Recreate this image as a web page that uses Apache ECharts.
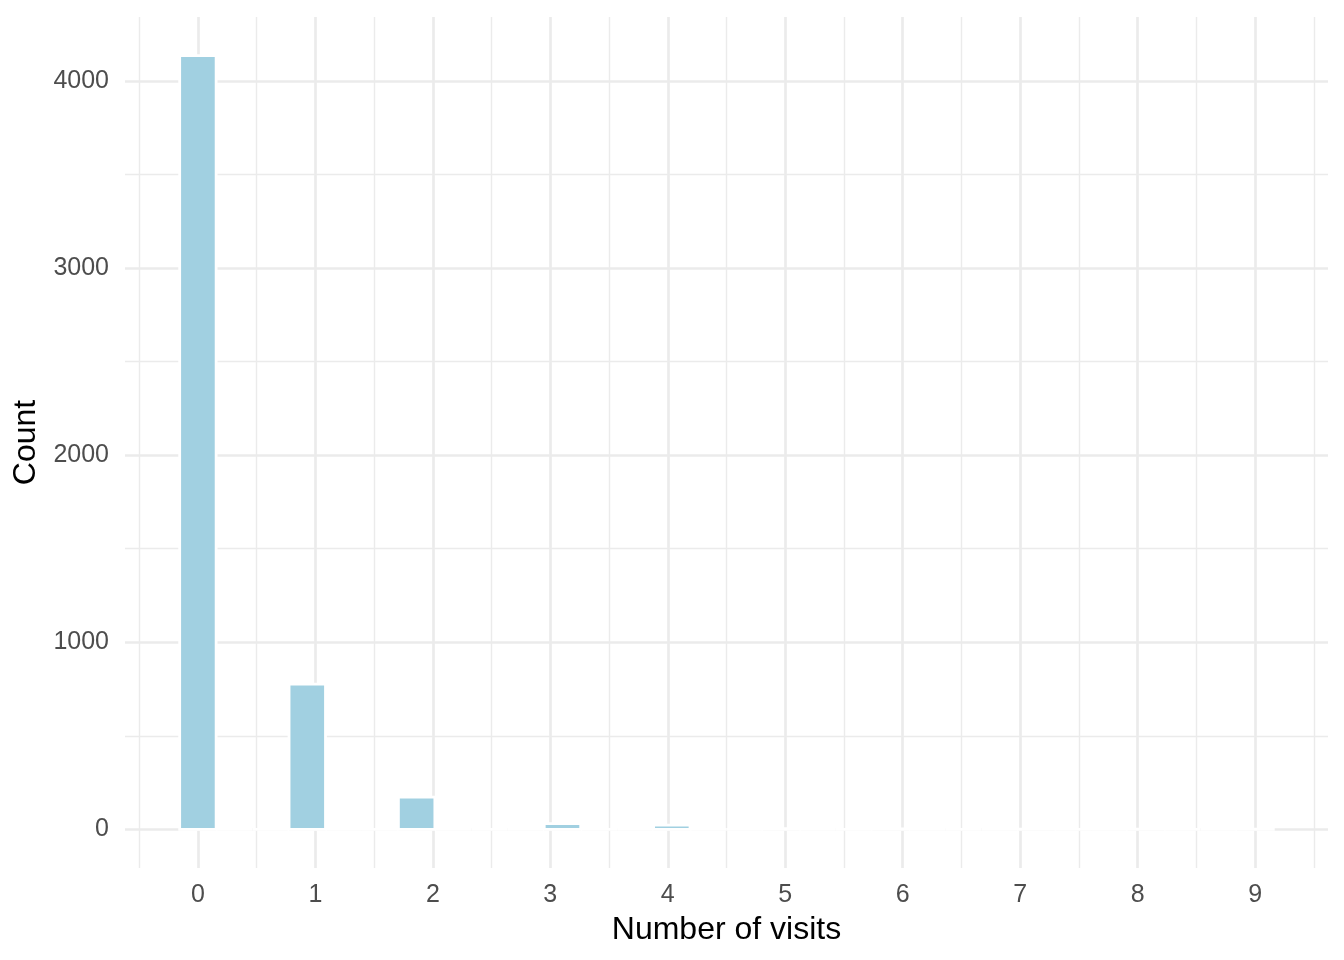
<!DOCTYPE html>
<html>
<head>
<meta charset="utf-8">
<script src="https://cdn.jsdelivr.net/npm/echarts@6/dist/echarts.min.js"></script>
<style>html,body{margin:0;padding:0;background:#fff}#c{width:1344px;height:960px}</style>
</head>
<body>
<div id="c"></div>
<script>
// Histogram: 30 bins, bin width 9/29, centred on k * binWidth
const binWidth = 9 / 29;
const binCounts = [4135, 0, 0, 776, 0, 0, 172, 0, 0, 0, 30, 0, 0, 22, 0, 0, 4, 0, 0, 2, 0, 0, 0, 1, 0, 0, 1, 0, 0, 1];
const xTicks = [0, 1, 2, 3, 4, 5, 6, 7, 8, 9];
const xMinor = [-0.5, 0.5, 1.5, 2.5, 3.5, 4.5, 5.5, 6.5, 7.5, 8.5, 9.5];
const yTicks = [0, 1000, 2000, 3000, 4000];
const yMinor = [500, 1500, 2500, 3500];
const xTitle = 'Number of visits';
const yTitle = 'Count';

const bins = binCounts.map((c, k) => [k * binWidth - binWidth / 2, k * binWidth + binWidth / 2, c]);
const xLo = bins[0][0], xHi = bins[bins.length - 1][1];
const xPad = (xHi - xLo) * 0.05;
const yMax = Math.max(...binCounts);
const yPad = yMax * 0.05;

const grid = '#EBEBEB';
function vLines(vals, w) { return vals.map(v => ({ xAxis: v, lineStyle: { width: w, color: grid, type: 'solid' } })); }
function hLines(vals, w) { return vals.map(v => ({ yAxis: v, lineStyle: { width: w, color: grid, type: 'solid' } })); }

const chart = echarts.init(document.getElementById('c'), null, { renderer: 'canvas' });
chart.setOption({
  animation: false,
  backgroundColor: '#fff',
  grid: { left: 125, right: 16, top: 17, bottom: 92, containLabel: false, outerBoundsMode: 'none' },
  xAxis: {
    type: 'value', min: xLo - xPad, max: xHi + xPad,
    splitLine: { show: false }, axisLine: { show: false }, axisTick: { show: false },
    axisLabel: { customValues: xTicks, fontSize: 25, color: '#4D4D4D', margin: 15, fontFamily: 'Liberation Sans' },
    name: xTitle, nameLocation: 'middle', nameGap: 46,
    nameTextStyle: { fontSize: 32, color: '#000', fontFamily: 'Liberation Sans' }
  },
  yAxis: {
    type: 'value', min: -yPad, max: yMax + yPad,
    splitLine: { show: false }, axisLine: { show: false }, axisTick: { show: false },
    axisLabel: { customValues: yTicks, fontSize: 25, color: '#4D4D4D', margin: 16, fontFamily: 'Liberation Sans',
      formatter: v => String(v) },
    name: yTitle, nameLocation: 'middle', nameGap: 75, nameRotate: 90,
    nameTextStyle: { fontSize: 32, color: '#000', fontFamily: 'Liberation Sans' }
  },
  series: [
    {
      type: 'line', data: [], silent: true, z: 1,
      markLine: {
        silent: true, symbol: 'none', label: { show: false }, animation: false,
        data: [].concat(vLines(xMinor, 1.4), hLines(yMinor, 1.4), vLines(xTicks, 2.7), hLines(yTicks, 2.7))
      }
    },
    {
      type: 'custom', z: 5, data: bins,
      renderItem: function (params, api) {
        const p0 = api.coord([api.value(0), api.value(2)]);
        const p1 = api.coord([api.value(1), 0]);
        return {
          type: 'rect',
          shape: { x: p0[0], y: p0[1], width: p1[0] - p0[0], height: p1[1] - p0[1] },
          style: { fill: '#A1D0E1', stroke: '#FFFFFF', lineWidth: 2.8 }
        };
      }
    }
  ]
});
</script>
</body>
</html>
